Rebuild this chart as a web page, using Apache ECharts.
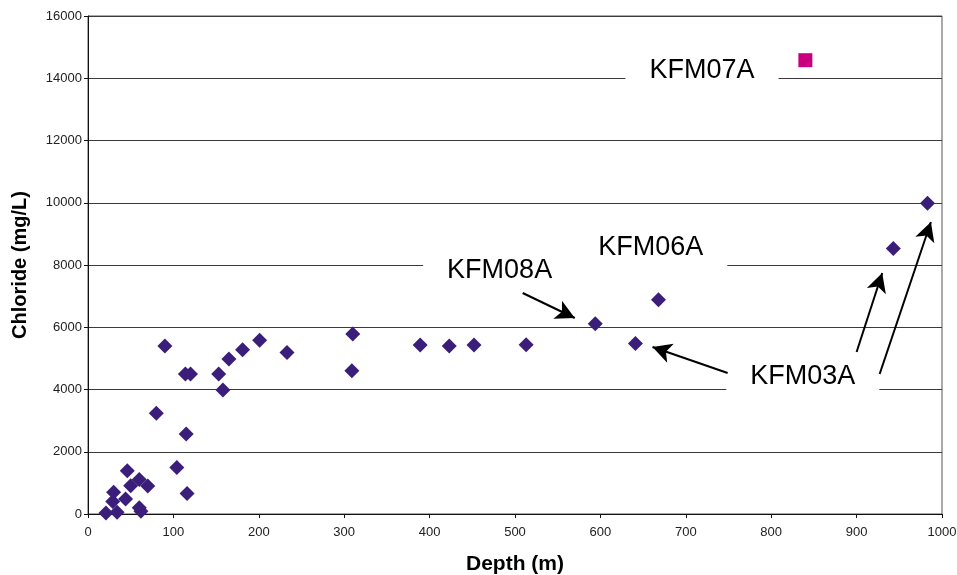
<!DOCTYPE html>
<html>
<head>
<meta charset="utf-8">
<script src="https://cdn.jsdelivr.net/npm/echarts@6/dist/echarts.min.js"></script>
<style>
html,body{margin:0;padding:0;background:#fff;}
#chart{width:957px;height:575px;}
</style>
</head>
<body>
<div id="chart"></div>
<script>
// Data
const depths    = [21, 34, 29, 30, 44, 46, 50, 60, 70, 60, 62, 104, 116, 115, 80, 90, 114, 120, 153, 158, 165, 181, 201, 233, 310, 309, 389, 423, 452, 513, 594, 641, 668, 943, 983];
const chlorides = [30, 60, 400, 700, 480, 1390, 910, 1110, 900, 200, 90, 1490, 660, 2570, 3240, 5400, 4500, 4500, 4500, 3980, 4980, 5280, 5580, 5190, 5780, 4600, 5430, 5400, 5430, 5440, 6110, 5480, 6880, 8530, 9980];
const kfm07aDepth = [840];
const kfm07aChloride = [14580];

const yTicks = [0, 2000, 4000, 6000, 8000, 10000, 12000, 14000, 16000];
const xTicks = [0, 100, 200, 300, 400, 500, 600, 700, 800, 900, 1000];

// Annotation labels (data coordinates)
const annotNames = ['KFM07A', 'KFM06A', 'KFM08A', 'KFM03A'];
const annotX = [719, 659, 482, 837];
const annotY = [14233, 8546, 7807, 4402];

// Arrows: [startX, startY, tipX, tipY] in data coordinates
const arrowStartX = [509, 749, 900, 927];
const arrowStartY = [7100, 4530, 5205, 4498];
const arrowTipX   = [570, 661, 930, 987];
const arrowTipY   = [6297, 5365, 7743, 9382];

const mainData = depths.map((d, i) => [d, chlorides[i]]);
const k07Data = kfm07aDepth.map((d, i) => [d, kfm07aChloride[i]]);
const labelData = annotNames.map((n, i) => ({ name: n, value: [annotX[i], annotY[i]] }));
const arrowData = arrowStartX.map((x, i) => [
  { coord: [x, arrowStartY[i]] },
  { coord: [arrowTipX[i], arrowTipY[i]] }
]);

const chart = echarts.init(document.getElementById('chart'), null, { renderer: 'canvas' });
const font = 'Liberation Sans, Arial, sans-serif';

chart.setOption({
  animation: false,
  backgroundColor: '#fff',
  grid: {
    left: 88, right: 15, top: 16, bottom: 61,
    outerBoundsMode: 'none', containLabel: false,
    show: true, borderColor: '#555', borderWidth: 1, backgroundColor: '#fff'
  },
  xAxis: {
    type: 'value', min: xTicks[0], max: xTicks[xTicks.length - 1], interval: 100,
    name: 'Depth (m)', nameLocation: 'middle', nameGap: 40,
    nameTextStyle: { fontFamily: font, fontWeight: 'bold', fontSize: 21, color: '#000' },
    axisLine: { show: true, onZero: false, lineStyle: { color: '#111', width: 1 } },
    axisTick: { show: true, length: 4, inside: false, lineStyle: { color: '#111' } },
    axisLabel: { margin: 12, fontFamily: font, fontSize: 13, color: '#222', formatter: v => String(v), hideOverlap: false },
    splitLine: { show: false }
  },
  yAxis: {
    type: 'value', min: yTicks[0], max: yTicks[yTicks.length - 1], interval: 2000,
    name: 'Chloride (mg/L)', nameLocation: 'middle', nameGap: 58, nameRotate: 90,
    nameTextStyle: { fontFamily: font, fontWeight: 'bold', fontSize: 20, color: '#000' },
    axisLine: { show: true, onZero: false, lineStyle: { color: '#111', width: 1 } },
    axisTick: { show: true, length: 4, lineStyle: { color: '#111' } },
    axisLabel: { margin: 6, fontFamily: font, fontSize: 13, color: '#222', formatter: v => String(v) },
    splitLine: { show: true, lineStyle: { color: '#3a3a3a', width: 1 } }
  },
  series: [
    {
      name: 'labels',
      type: 'scatter',
      z: 3,
      symbolSize: 1,
      itemStyle: { color: 'rgba(0,0,0,0)', opacity: 1 },
      silent: true,
      data: labelData,
      label: {
        show: true, position: 'inside', formatter: '{b}',
        fontFamily: font, fontSize: 27, color: '#000',
        backgroundColor: '#fff', padding: [8, 24, 10, 24]
      },
      labelLayout: { hideOverlap: false }
    },
    {
      name: 'main',
      type: 'scatter',
      z: 4,
      symbol: 'diamond',
      symbolSize: 15,
      itemStyle: { color: '#3b1e7a', opacity: 1 },
      data: mainData,
      markLine: {
        silent: true,
        symbol: ['none', 'arrow'],
        symbolSize: [15, 19],
        lineStyle: { color: '#000', width: 2, type: 'solid' },
        label: { show: false },
        animation: false,
        data: arrowData
      }
    },
    {
      name: 'KFM07A',
      type: 'scatter',
      z: 4,
      symbol: 'rect',
      symbolSize: 14,
      itemStyle: { color: '#c8007f', opacity: 1 },
      data: k07Data
    }
  ]
});
</script>
</body>
</html>
